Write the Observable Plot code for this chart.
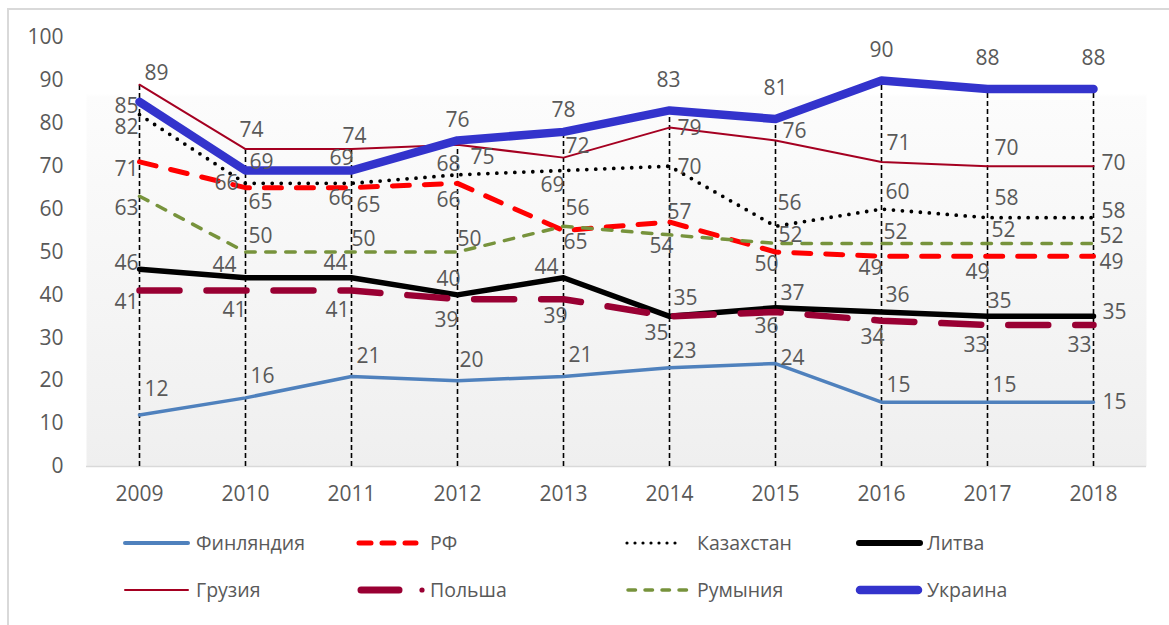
<!DOCTYPE html>
<html>
<head>
<meta charset="utf-8">
<script src="https://cdn.jsdelivr.net/npm/d3@7"></script>
<script src="https://cdn.jsdelivr.net/npm/@observablehq/plot@0.6"></script>
<style>
  body { margin: 0; background: #fff; font-family: "Open Sans", sans-serif; }
  #frame { position: absolute; left: 7px; top: 8px; width: 1180px; height: 640px;
           border-left: 2px solid #d9d9d9; border-top: 2px solid #d9d9d9; }
  #chart { position: absolute; left: 0; top: 0; }
  #legend { position: absolute; left: 0; top: 520px; }
</style>
</head>
<body>
<div id="frame"></div>
<div id="chart"></div>
<div id="legend"></div>
<script>
// ---- Data ----
const years = ["2009", "2010", "2011", "2012", "2013", "2014", "2015", "2016", "2017", "2018"];
const yTicks = [0, 10, 20, 30, 40, 50, 60, 70, 80, 90, 100];

const finland    = [12, 16, 21, 20, 21, 23, 24, 15, 15, 15];
const rf         = [71, 65, 65, 66, 55, 57, 50, 49, 49, 49];
const rfLabels   = ["71", "65", "65", "66", "65", "57", "50", "49", "49", "49"];
const kazakhstan = [82, 66, 66, 68, 69, 70, 56, 60, 58, 58];
const lithuania  = [46, 44, 44, 40, 44, 35, 37, 36, 35, 35];
const georgia    = [89, 74, 74, 75, 72, 79, 76, 71, 70, 70];
const poland     = [41, 41, 41, 39, 39, 35, 36, 34, 33, 33];
const romania    = [63, 50, 50, 50, 56, 54, 52, 52, 52, 52];
const ukraine    = [85, 69, 69, 76, 78, 83, 81, 90, 88, 88];

const seriesNames = ["Финляндия", "РФ", "Казахстан", "Литва", "Грузия", "Польша", "Румыния", "Украина"];
const seriesValues = [finland, rf, kazakhstan, lithuania, georgia, poland, romania, ukraine];
const seriesLabels = [null, rfLabels, null, null, null, null, null, null];

// ---- Styles ----
const styles = {
  "Финляндия": {color: "#4f81bd", width: 3.5, dash: null, legendDash: null},
  "РФ":        {color: "#ff0000", width: 5, dash: "17,15", legendDash: "12,11"},
  "Казахстан": {color: "#000000", width: 3.8, dash: "0,9", legendDash: "0,8"},
  "Литва":     {color: "#000000", width: 5.5, dash: null, legendDash: null},
  "Грузия":    {color: "#a50021", width: 2, dash: null, legendDash: null},
  "Польша":    {color: "#990033", width: 6.5, dash: "40,27", legendDash: null},
  "Румыния":   {color: "#77933c", width: 3.5, dash: "9.5,10.5", legendDash: "7.5,9.5"},
  "Украина":   {color: "#3333cc", width: 8.5, dash: null, legendDash: null}
};

// label placement: [anchor, dx, dy]
const placement = {
  "Финляндия": [["s",5,-26],["s",5,-22],["s",5,-20],["s",2,-20],["s",5,-21],["s",3,-17],["s",5,-5],["s",5,-17],["s",5,-17],["s",9,0]],
  "Грузия":    [["s",5,-11],["m",6,-19],["m",3,-13],["s",13,13],["s",2,-11],["s",8,1],["s",7,-9],["s",5,-19],["s",7,-18],["s",8,-3]],
  "Украина":   [["e",-1,4],["s",4,-8],["e",2,-12],["m",0,-20],["m",0,-22],["m",-1,-30],["m",0,-31],["m",0,-30],["m",0,-31],["m",0,-31]],
  "Казахстан": [["e",-1,13],["e",-7,0],["e",1,15],["e",3,-11],["e",1,15],["s",8,1],["s",2,-23],["s",4,-17],["s",7,-19],["s",8,-6]],
  "РФ":        [["e",-1,7],["s",3,15],["s",5,18],["e",3,17],["s",0,12],["s",-2,-10],["e",3,12],["e",1,12],["e",2,16],["s",6,6]],
  "Румыния":   [["e",-1,12],["s",3,-16],["s",0,-13],["s",0,-13],["s",2,-18],["e",4,11],["s",3,-8],["s",2,-11],["s",4,-13],["s",6,-7]],
  "Литва":     [["e",-1,-6],["e",-9,-12],["e",-4,-14],["e",3,-16],["e",-5,-10],["s",4,-18],["s",5,-15],["s",4,-17],["s",0,-15],["s",9,-4]],
  "Польша":    [["e",-1,12],["e",1,20],["e",-2,20],["e",1,21],["e",4,17],["e",-1,17],["e",3,14],["e",3,17],["e",0,20],["e",-2,20]]
};
const anchorMap = {s: "start", e: "end", m: "middle"};

// ---- Build tables ----
const rows = [];
seriesNames.forEach((name, si) => {
  seriesValues[si].forEach((v, i) => {
    rows.push({series: name, year: years[i], value: v,
               label: seriesLabels[si] ? seriesLabels[si][i] : String(v),
               place: placement[name][i]});
  });
});
const drops = years.map((y, i) => ({year: y, max: d3.max(seriesValues, s => s[i])}));

const marks = [
  Plot.frame({fill: "url(#plotbg)", stroke: "none"}),
  Plot.ruleY([0], {stroke: "#d9d9d9", strokeWidth: 1.5}),
  Plot.ruleX(drops, {x: "year", y1: 0, y2: "max", stroke: "#000", strokeWidth: 1.6, strokeDasharray: "5,3"})
];
seriesNames.forEach(name => {
  const st = styles[name];
  marks.push(Plot.line(rows.filter(r => r.series === name), {
    x: "year", y: "value", stroke: st.color, strokeWidth: st.width,
    strokeDasharray: st.dash || undefined, strokeLinecap: "round", strokeLinejoin: "round"
  }));
});
rows.forEach(r => {
  marks.push(Plot.text([r], {
    x: "year", y: "value", text: "label",
    textAnchor: anchorMap[r.place[0]], dx: r.place[1], dy: r.place[2],
    fill: "#595959", fontSize: 21
  }));
});

const chart = Plot.plot({
  width: 1169,
  height: 520,
  marginLeft: 86,
  marginRight: 23,
  marginTop: 37,
  marginBottom: 54,
  style: {fontFamily: "'Open Sans', sans-serif", fontSize: "21px", color: "#595959", background: "transparent"},
  x: {type: "point", domain: years, padding: 0.5, tickSize: 0, tickPadding: 20, label: null},
  y: {domain: [0, 100], ticks: yTicks, tickSize: 0, tickPadding: 23, label: null},
  marks
});

// gradient for plot background
const ns = "http://www.w3.org/2000/svg";
const defs = document.createElementNS(ns, "defs");
defs.innerHTML = `<linearGradient id="plotbg" x1="0" y1="0" x2="0" y2="1">
  <stop offset="0" stop-color="#ffffff"/>
  <stop offset="0.13" stop-color="#ffffff"/>
  <stop offset="0.14" stop-color="#fcfcfc"/>
  <stop offset="1" stop-color="#efefef"/>
</linearGradient>`;
chart.insertBefore(defs, chart.firstChild);
document.getElementById("chart").appendChild(chart);

// ---- Legend ----
const legendLayout = [
  {name: "Финляндия", x1: 125, x2: 188, tx: 196, row: 0},
  {name: "РФ",        x1: 359, x2: 416, tx: 430, row: 0},
  {name: "Казахстан", x1: 627, x2: 683, tx: 697, row: 0},
  {name: "Литва",     x1: 859, x2: 920, tx: 927, row: 0},
  {name: "Грузия",    x1: 125, x2: 188, tx: 196, row: 1},
  {name: "Польша",    x1: 361, x2: 399, tx: 430, row: 1, dot: 422},
  {name: "Румыния",   x1: 628, x2: 688, tx: 697, row: 1},
  {name: "Украина",   x1: 860, x2: 918, tx: 927, row: 1}
];
const rowY = [23, 70];
const lsvg = d3.select("#legend").append("svg").attr("width", 1169).attr("height", 105)
  .style("font-family", "'Open Sans', sans-serif");
legendLayout.forEach(e => {
  const st = styles[e.name];
  const y = rowY[e.row];
  const w = e.name === "Украина" ? 8.5 : e.name === "Литва" ? 6 : e.name === "Польша" ? 7 : e.name === "Финляндия" ? 4 : e.name === "Казахстан" ? 3.2 : st.width;
  lsvg.append("line").attr("x1", e.x1).attr("x2", e.x2).attr("y1", y).attr("y2", y)
    .attr("stroke", st.color).attr("stroke-width", w).attr("stroke-linecap", "round")
    .attr("stroke-dasharray", st.legendDash || null);
  if (e.dot) lsvg.append("circle").attr("cx", e.dot).attr("cy", y).attr("r", 2.6).attr("fill", st.color);
  lsvg.append("text").attr("x", e.tx).attr("y", y).attr("dy", "0.35em")
    .attr("fill", "#595959").attr("font-size", 19.5).text(e.name);
});
</script>
</body>
</html>
